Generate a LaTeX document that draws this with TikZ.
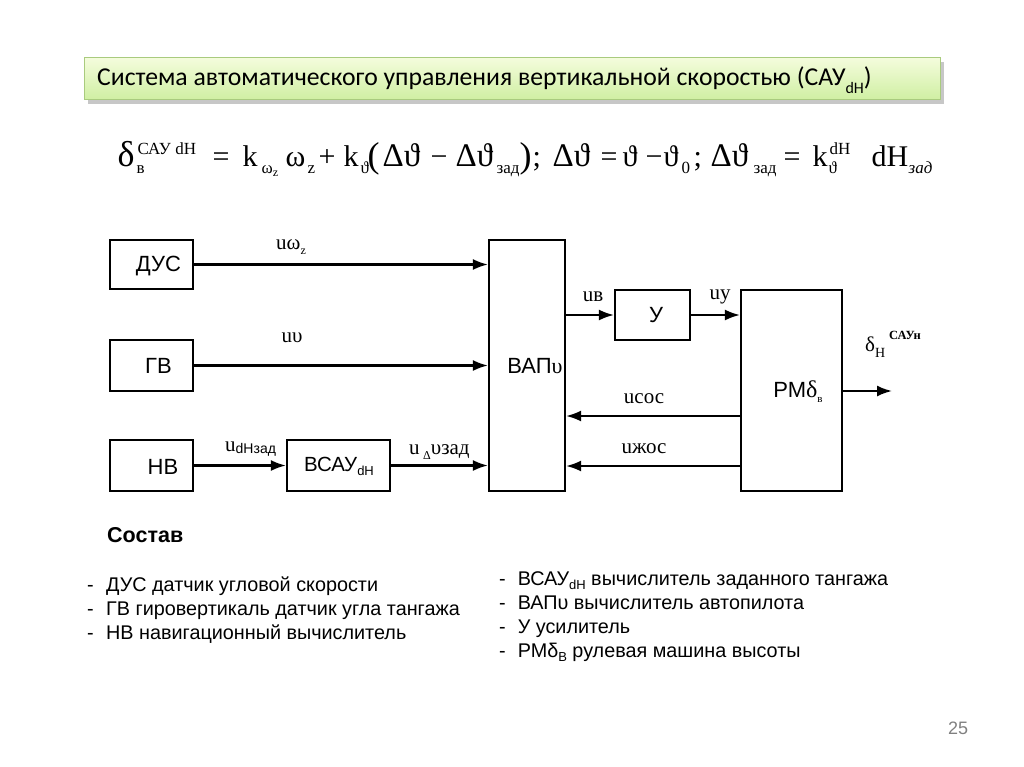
\documentclass[tikz,border=0pt]{standalone}
\usepackage{fontspec}
\setmainfont{Liberation Sans}
\newfontfamily\serif{Liberation Serif}
\newfontfamily\titlef{Carlito}
\usetikzlibrary{arrows.meta,shadows}
\newcommand\fsz[1]{\fontsize{#1}{#1}\selectfont}
\newcommand\fp[2]{\rlap{\hspace{#1pt}#2}}
\newcommand\lsub[1]{\raisebox{-7pt}{\fsz{17}#1}}
\newcommand\lsup[1]{\raisebox{12pt}{\fsz{17}#1}}
\newcommand\tsub[1]{\raisebox{-3pt}{\fsz{12}#1}}
\newcommand\dth{{\fsz{33}Δϑ}}
\definecolor{tgtop}{HTML}{F4FCDC}
\definecolor{tgbot}{HTML}{CFEFA2}
\definecolor{tgbrd}{HTML}{A9CB7E}
\begin{document}
\begin{tikzpicture}[x=1pt,y=-1pt,
  blk/.style={draw,line width=2.2pt,rectangle,inner sep=0pt},
  lbl/.style={font=\fsz{22},inner sep=0pt},
  slbl/.style={font=\serif\fsz{21},inner sep=0pt},
  arr/.style={line width=2.1pt,-{Latex[length=15pt,width=11pt]}},
  listt/.style={font=\fsz{19.8},inner sep=0pt,anchor=base west}
]
\useasboundingbox (0,0) rectangle (1024,767);
% title
\fill[black!22] (88,62) rectangle (944,104);
\node[draw=tgbrd,line width=1pt,top color=tgtop,bottom color=tgbot,minimum width=856pt,minimum height=42pt,inner sep=0pt] (title) at (512,79) {};
\node[font=\titlef\fsz{25.7},anchor=west,inner sep=0pt] (ttxt) at (97,80) {Система автоматического управления вертикальной скоростью (САУ\raisebox{-0.3em}{\fsz{16}dH})};
% formula
\node[font=\serif\fsz{30},anchor=base west,inner sep=0pt] (form) at (117,167) {%
\fp{0}{{\fsz{36}δ}}\fp{19}{\lsub{в}}\fp{20}{\lsup{САУ dH}}%
\fp{95}{=}\fp{125}{k}\fp{144}{\lsub{ω\tsub{z}}}\fp{168}{ω}\fp{190}{\lsub{z}}\fp{201}{+}%
\fp{226}{k}\fp{243}{\lsub{ϑ}}\fp{250}{\raisebox{-1pt}{\fsz{36}(}}\fp{265}{\dth}\fp{313}{−}\fp{338}{\dth}\fp{379}{\lsub{зад}}%
\fp{402}{\raisebox{-1pt}{\fsz{36})}}\fp{415}{;}%
\fp{435}{\dth}\fp{483}{=}\fp{505}{ϑ}\fp{528}{−}\fp{546}{ϑ}\fp{564}{\lsub{0}}\fp{576}{;}%
\fp{593}{\dth}\fp{636}{\lsub{зад}}\fp{666}{=}\fp{695}{k}\fp{711}{\lsub{ϑ}}\fp{712}{\lsup{dH}}%
\fp{754}{dH}\fp{791}{\lsub{\itshape зад}}\hspace{820pt}};
% blocks
\node[blk,minimum width=83pt,minimum height=49pt] (dus) at (151.5,264.5) {};
\node[blk,minimum width=83pt,minimum height=51pt] (gv) at (151.5,365.5) {};
\node[blk,minimum width=83pt,minimum height=51pt] (nv) at (151.5,465.5) {};
\node[blk,minimum width=103pt,minimum height=51pt] (vsau) at (338.5,465.5) {};
\node[blk,minimum width=76pt,minimum height=251pt] (vap) at (527,365.5) {};
\node[blk,minimum width=75pt,minimum height=50pt] (u) at (652.5,315) {};
\node[blk,minimum width=101pt,minimum height=201pt] (rm) at (791.5,390.5) {};
% block texts
\node[lbl] (tdus) at (158.5,266) {ДУС};
\node[lbl] (tgv) at (158.5,366) {ГВ};
\node[lbl] (tnv) at (163,467) {НВ};
\node[lbl,font=\fsz{20.5}] (tvsau) at (339,466) {ВСАУ\raisebox{-0.2em}{\fsz{13}dH}};
\node[lbl] (tvap) at (535,366) {ВАП{\serif υ}};
\node[lbl] (tu) at (656,315) {У};
\node[lbl] (trm) at (798,392) {РМ{\serif\fsz{24}δ\raisebox{-0.2em}{\fsz{11}в}}};
% connectors
\draw[arr] (dus.east) -- (dus.east -| vap.west);
\draw[arr] (gv.east) -- (gv.east -| vap.west);
\draw[arr] (nv.east) -- (vsau.west);
\draw[arr] (vsau.east) -- (vsau.east -| vap.west);
\draw[arr] (u.west -| vap.east) -- (u.west);
\draw[arr] (u.east) -- (u.east -| rm.west);
\coordinate (fb1) at (741,416);
\coordinate (fb2) at (741,466);
\coordinate (out) at (892,391);
\draw[arr] (fb1) -- (fb1 -| vap.east);
\draw[arr] (fb2) -- (fb2 -| vap.east);
\draw[arr] (rm.east |- out) -- (out);
% signal labels
\node[slbl] (l1) at (291,247) {uω\raisebox{-0.25em}{\fsz{12}z}};
\node[slbl] (l2) at (292,338) {uυ};
\node[slbl,anchor=base west] (l3) at (225,451) {u\raisebox{-0.1em}{\normalfont\fsz{14}dHзад}};
\node[slbl,anchor=base west] (l4) at (409,454) {u\,\raisebox{-0.25em}{\fsz{12}Δ}υзад};
\node[slbl] (l5) at (593,297) {uв};
\node[slbl] (l6) at (720,297) {uу};
\node[slbl] (l7) at (644,399) {uсос};
\node[slbl] (l8) at (644,449) {uжос};
\node[slbl,anchor=base west] (l9) at (865,351) {δ\raisebox{-0.3em}{\fsz{14}Н}\hspace{4pt}\raisebox{0.55em}{\bfseries\fsz{12.5}САУн}};
% composition
\node[font=\bfseries\fsz{21.5},anchor=base west,inner sep=0pt] (sost) at (107,542) {Состав};
\node[listt] (a1) at (87,591) {-\hspace{12.4pt}ДУС датчик угловой скорости};
\node[listt] (a2) at (87,615.5) {-\hspace{12.4pt}ГВ гировертикаль датчик угла тангажа};
\node[listt] (a3) at (87,639) {-\hspace{12.4pt}НВ навигационный вычислитель};
\node[listt] (b1) at (499,585) {-\hspace{12pt}ВСАУ\raisebox{-0.25em}{\fsz{13}dH} вычислитель заданного тангажа};
\node[listt] (b2) at (499,609) {-\hspace{12pt}ВАПυ вычислитель автопилота};
\node[listt] (b3) at (499,633) {-\hspace{12pt}У усилитель};
\node[listt] (b4) at (499,657) {-\hspace{12pt}РМδ\raisebox{-0.25em}{\fsz{13}В} рулевая машина высоты};
\node[font=\fsz{18},text=black!50,inner sep=0pt] (pg) at (958,728) {25};
\end{tikzpicture}
\end{document}
